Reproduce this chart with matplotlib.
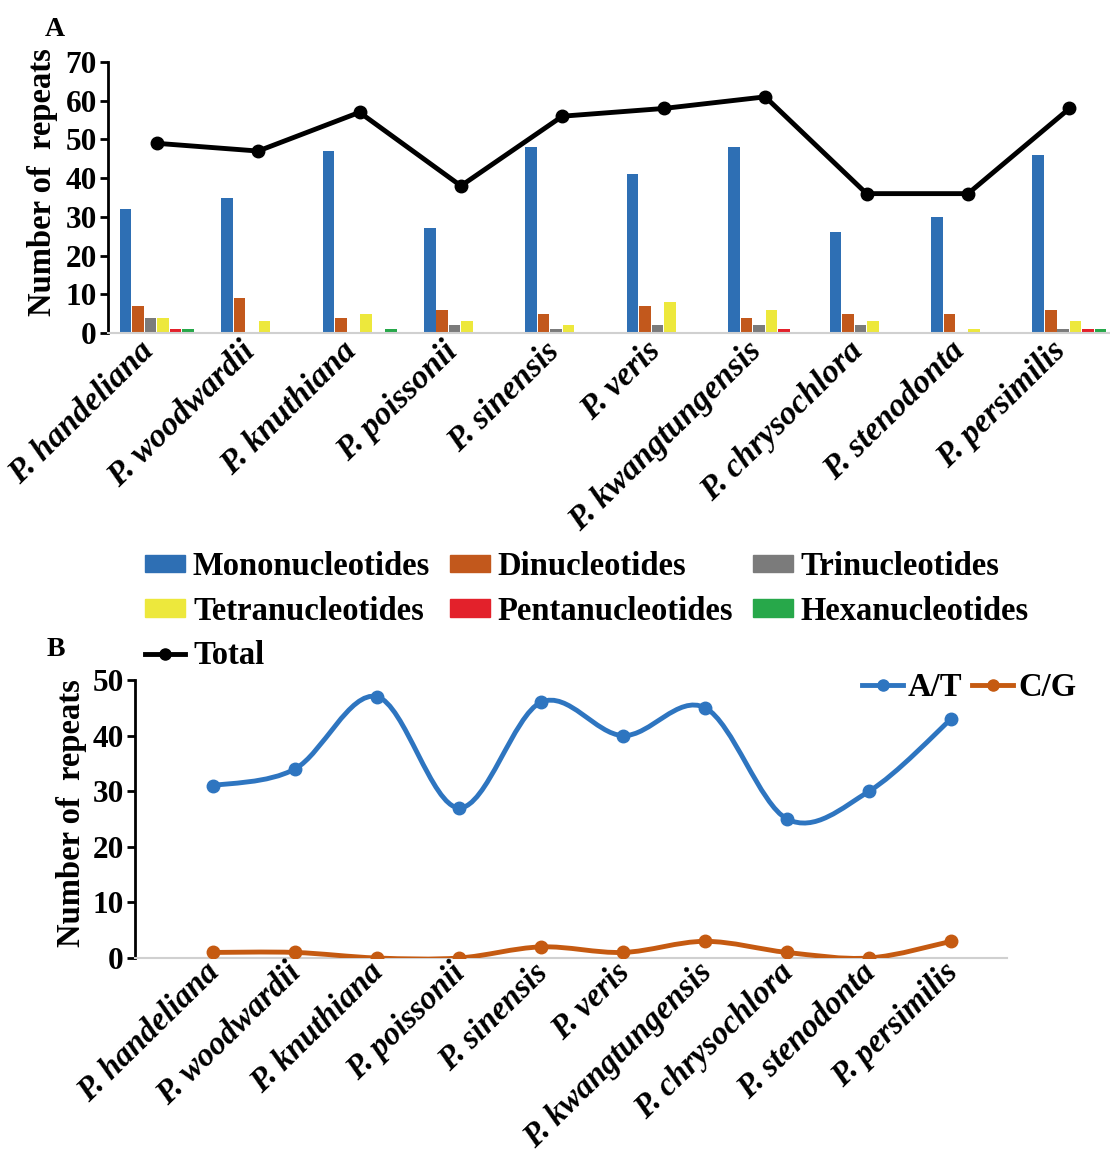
import numpy as np
import matplotlib
matplotlib.use("Agg")
import matplotlib.pyplot as plt
import matplotlib.transforms as mtransforms
from matplotlib.path import Path
from matplotlib.patches import PathPatch
from matplotlib.lines import Line2D
from matplotlib.patches import Patch

species = ["P. handeliana", "P. woodwardii", "P. knuthiana", "P. poissonii", "P. sinensis",
           "P. veris", "P. kwangtungensis", "P. chrysochlora", "P. stenodonta", "P. persimilis"]
mono = [32, 35, 47, 27, 48, 41, 48, 26, 30, 46]
di = [7, 9, 4, 6, 5, 7, 4, 5, 5, 6]
tri = [4, 0, 0, 2, 1, 2, 2, 2, 0, 1]
tetra = [4, 3, 5, 3, 2, 8, 6, 3, 1, 3]
penta = [1, 0, 0, 0, 0, 0, 1, 0, 0, 1]
hexa = [1, 0, 1, 0, 0, 0, 0, 0, 0, 1]
total = [49, 47, 57, 38, 56, 58, 61, 36, 36, 58]
at_vals = [31, 34, 47, 27, 46, 40, 45, 25, 30, 43]
cg_vals = [1, 1, 0, 0, 2, 1, 3, 1, 0, 3]

series_names = ["Mononucleotides", "Dinucleotides", "Trinucleotides",
                "Tetranucleotides", "Pentanucleotides", "Hexanucleotides"]
series_vals = [mono, di, tri, tetra, penta, hexa]
colors = ["#2E6FB4", "#C2581C", "#7B7B7B", "#EDE83C", "#E3212B", "#27A84A"]

plt.rcParams['font.family'] = ['Liberation Serif', 'DejaVu Serif']
plt.rcParams['font.weight'] = 'bold'

W, H = 1110, 1158
fig = plt.figure(figsize=(W / 100, H / 100), dpi=100)

def fx(px):
    return px / W

def fy(py):
    return 1 - py / H

TICK_FS = 22.5
LAB_FS = 23.5
LEG_FS = 23.5

def style_axis(ax, dx_px, dy_px, cat_fs):
    ax.set_xticks(np.arange(len(species)))
    ax.set_xticklabels([])
    off = mtransforms.ScaledTranslation(dx_px / 100, dy_px / 100, fig.dpi_scale_trans)
    tr = ax.get_xaxis_transform() + off
    for i, name in enumerate(species):
        ax.text(i, 0, name, transform=tr, rotation=44.5, ha='right', va='top',
                rotation_mode='anchor', fontsize=cat_fs, fontstyle='italic',
                fontweight='bold', clip_on=False)
    ax.tick_params(axis='x', length=0, pad=0)
    ax.tick_params(axis='y', labelsize=TICK_FS, width=2, length=6, direction='out', pad=2)
    for lab in ax.get_yticklabels():
        lab.set_fontweight('bold')
    ax.spines['top'].set_visible(False)
    ax.spines['right'].set_visible(False)
    ax.spines['left'].set_linewidth(2)
    ax.spines['bottom'].set_color('#D0D0D0')
    ax.spines['bottom'].set_linewidth(1.5)
    ax.set_ylabel("Number of  repeats", fontsize=LAB_FS, fontweight='bold')

# ---------------- Panel A ----------------
axA = fig.add_axes([fx(108), fy(333), fx(1110) - fx(108), fy(62) - fy(333)])
x = np.arange(len(species))
bw = 0.123
offsets = (np.arange(6) - 2.5) * bw
for i, (name, vals, c) in enumerate(zip(series_names, series_vals, colors)):
    axA.bar(x + offsets[i], vals, width=bw * 0.93, color=c, label=name, zorder=2)
axA.plot(x, total, color='black', lw=3.5, marker='o', ms=9, label='Total', zorder=3)
axA.set_xlim(-0.48, 9.4)
axA.set_ylim(0, 70)
axA.set_yticks(np.arange(0, 71, 10))
style_axis(axA, -19, -2.6, 24)
axA.yaxis.set_label_coords(-0.050, 0.555)
fig.text(fx(45), fy(30), "A", fontsize=20, fontweight='bold', ha='left', va='center')

handles = [Patch(color=c) for c in colors]
tot_h = Line2D([], [], color='black', lw=3.5, marker='o', ms=8)
order_h = [handles[0], handles[3], tot_h, handles[1], handles[4], handles[2], handles[5]]
order_l = [series_names[0], series_names[3], "Total", series_names[1], series_names[4],
           series_names[2], series_names[5]]
fig.legend(order_h, order_l, ncol=3, loc='upper left', bbox_to_anchor=(fx(145), fy(551)),
           frameon=False, fontsize=LEG_FS, handlelength=1.22, handleheight=0.45,
           handletextpad=0.25, columnspacing=0.6, labelspacing=0.42, borderaxespad=0,
           borderpad=0)

# ---------------- Panel B ----------------
axB = fig.add_axes([fx(135), fy(958), fx(1007) - fx(135), fy(680) - fy(958)])

def smooth_path(xs, ys):
    pts = np.column_stack([xs, ys]).astype(float)
    n = len(pts)
    verts = [pts[0]]
    codes = [Path.MOVETO]
    for i in range(n - 1):
        p0 = pts[i - 1] if i > 0 else pts[i]
        p1 = pts[i]
        p2 = pts[i + 1]
        p3 = pts[i + 2] if i + 2 < n else pts[i + 1]
        c1 = p1 + (p2 - p0) / 6.0
        c2 = p2 - (p3 - p1) / 6.0
        verts += [c1, c2, p2]
        codes += [Path.CURVE4] * 3
    return Path(verts, codes)

blue_l = "#2E75C0"
orange_l = "#C55A11"
for vals, c, lab in [(at_vals, blue_l, "A/T"), (cg_vals, orange_l, "C/G")]:
    axB.add_patch(PathPatch(smooth_path(x, vals), fill=False, edgecolor=c, lw=3.5, zorder=3))
    axB.plot(x, vals, ls='none', marker='o', ms=9, color=c, zorder=4)

axB.set_xlim(-0.95, 9.68)
axB.set_ylim(0, 50)
axB.set_yticks(np.arange(0, 51, 10))
style_axis(axB, -9, 1.0, 23.5)
axB.yaxis.set_label_coords(-0.0545, 0.52)
fig.text(fx(47), fy(650), "B", fontsize=20, fontweight='bold', ha='left', va='center')

lh = [Line2D([], [], color=blue_l, lw=3.5, marker='o', ms=8),
      Line2D([], [], color=orange_l, lw=3.5, marker='o', ms=8)]
axB.legend(lh, ["A/T", "C/G"], ncol=2, loc='upper right', bbox_to_anchor=(fx(1076), fy(672)),
           bbox_transform=fig.transFigure, frameon=False, fontsize=LEG_FS, handlelength=1.25,
           handletextpad=0.15, columnspacing=0.3, borderaxespad=0, borderpad=0)

fig.savefig("out.png", dpi=100)
